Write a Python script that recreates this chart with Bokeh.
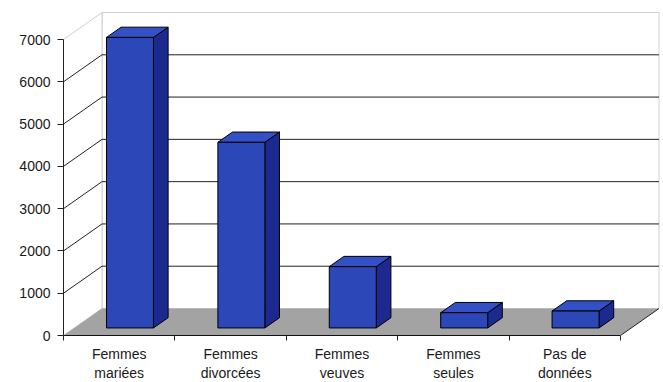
from bokeh.plotting import figure
from bokeh.models import Range1d, LinearAxis, FixedTicker
from bokeh.embed import file_html
from bokeh.resources import INLINE

# ---- data ----
categories = ["Femmes mariées", "Femmes divorcées", "Femmes veuves", "Femmes seules", "Pas de données"]
tick_labels = ["Femmes\nmariées", "Femmes\ndivorcées", "Femmes\nveuves", "Femmes\nseules", "Pas de\ndonnées"]
values = [6870, 4390, 1450, 360, 400]
y_ticks = [0, 1000, 2000, 3000, 4000, 5000, 6000, 7000]

# ---- geometry / style ----
PX_X = 111.4            # pixels per category
PX_Y = 296.0 / 7000.0   # pixels per value unit
FRAME_W = 597
FRAME_H = 325
X_END = FRAME_W / PX_X
Y_END = FRAME_H / PX_Y
DX = 38.5 / PX_X        # depth offset (category units)
DY = 27.0 / PX_Y        # depth offset (value units)
F0, F1 = 0.28, 0.66     # bar depth fractions
HW = 23.5 / PX_X        # bar half width
N = len(categories)
YMAX = y_ticks[-1]

FONT = "Liberation Sans"
GRID = "#2b1f1f"
WALL = "#cfcfcf"
FLOOR = "#a3a3a3"
FRONT = "#2c47b8"
TOP = "#3350c4"
SIDE = "#1c2a90"

p = figure(width=663, height=382, frame_width=FRAME_W, frame_height=FRAME_H,
           output_backend="svg", toolbar_location=None,
           x_range=Range1d(0, X_END), y_range=Range1d(0, Y_END),
           x_axis_type=None, y_axis_type=None,
           min_border_left=63, min_border_right=663 - 63 - FRAME_W,
           min_border_top=382 - 47 - FRAME_H, min_border_bottom=47)
p.outline_line_color = None
p.background_fill_color = "white"
p.border_fill_color = "white"

# walls
p.patch([DX, N + DX, N + DX, DX], [DY, DY, YMAX + DY, YMAX + DY],
        fill_color="white", line_color=WALL, line_width=1)
p.patch([0, DX, DX, 0], [0, DY, YMAX + DY, YMAX],
        fill_color="white", line_color=WALL, line_width=1)

# gridlines on back and left walls
gl = [t for t in y_ticks if 0 < t < YMAX]
p.segment(x0=[DX] * len(gl), y0=[t + DY for t in gl], x1=[N + DX] * len(gl),
          y1=[t + DY for t in gl], line_color=GRID, line_width=1)
p.segment(x0=[0] * len(gl), y0=gl, x1=[DX] * len(gl), y1=[t + DY for t in gl],
          line_color=GRID, line_width=1)

# floor
p.patch([0, N, N + DX, DX], [0, 0, DY, DY], fill_color=FLOOR, line_color=None)
p.segment(x0=[N], y0=[0], x1=[N + DX], y1=[DY], line_color=GRID, line_width=1)

# bars
fx, fy, sx, sy, tx, ty = [], [], [], [], [], []
for i, v in enumerate(values):
    c = i + 0.5
    x0f, x1f = c - HW + F0 * DX, c + HW + F0 * DX
    x0b, x1b = c - HW + F1 * DX, c + HW + F1 * DX
    yf, yb = F0 * DY, F1 * DY
    fx.append([x0f, x1f, x1f, x0f]); fy.append([yf, yf, yf + v, yf + v])
    sx.append([x1f, x1b, x1b, x1f]); sy.append([yf, yb, yb + v, yf + v])
    tx.append([x0f, x1f, x1b, x0b]); ty.append([yf + v, yf + v, yb + v, yb + v])
p.patches(sx, sy, fill_color=SIDE, line_color="black", line_width=1)
p.patches(tx, ty, fill_color=TOP, line_color="black", line_width=1)
p.patches(fx, fy, fill_color=FRONT, line_color="black", line_width=1)

# axes
yaxis = LinearAxis(ticker=FixedTicker(ticks=y_ticks), bounds=(0, YMAX),
                   major_tick_out=6, major_tick_in=0, minor_tick_line_color=None,
                   major_label_standoff=7, major_label_text_font=FONT,
                   major_label_text_font_size="14px", major_label_text_color="#1a1a1a",
                   axis_line_color="#222222", major_tick_line_color="#222222")
p.add_layout(yaxis, "left")

centers = [i + 0.5 for i in range(N)]
xaxis = LinearAxis(ticker=FixedTicker(ticks=centers, minor_ticks=list(range(N + 1))),
                   bounds=(0, N), major_tick_out=0, major_tick_in=0,
                   minor_tick_out=5, minor_tick_in=0,
                   minor_tick_line_color="#222222", major_tick_line_color=None,
                   major_label_overrides={c: lab for c, lab in zip(centers, tick_labels)},
                   major_label_standoff=5, major_label_text_font=FONT,
                   major_label_text_font_size="14px", major_label_text_color="#1a1a1a",
                   major_label_text_line_height=1.2,
                   axis_line_color="#111111")
p.add_layout(xaxis, "below")

html = file_html(p, INLINE)
html = html.replace("<head>", "<head><style>html,body{margin:0;overflow:hidden;}</style>", 1)
open("out.html", "w").write(html)
